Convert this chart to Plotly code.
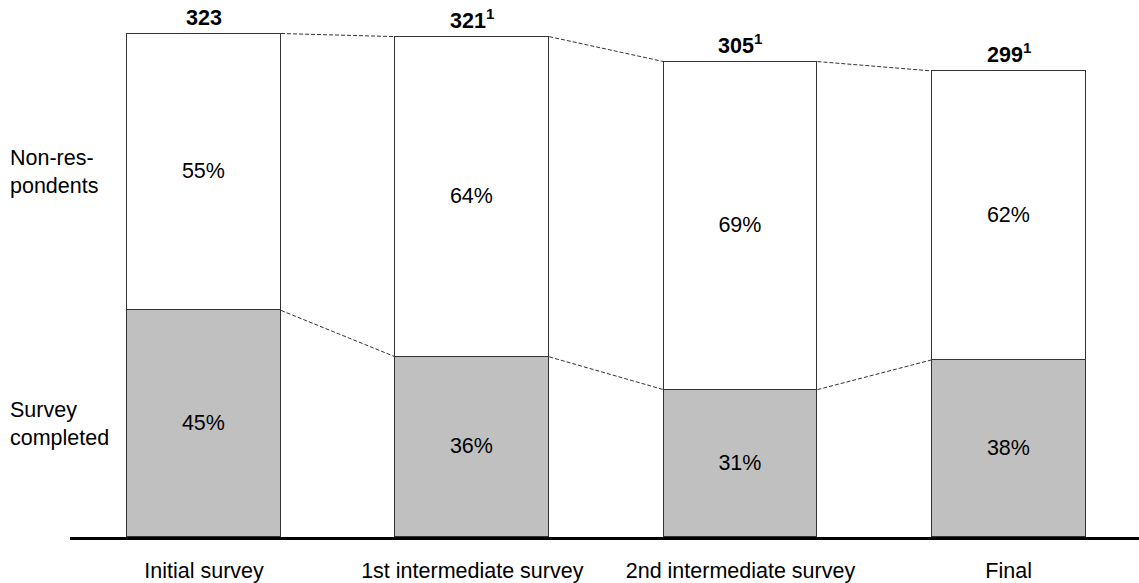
import plotly.graph_objects as go

categories = ["Initial survey", "1st intermediate survey", "2nd intermediate survey", "Final"]
totals = [323, 321, 305, 299]
total_labels = ["<b>323</b>", "<b>321<sup>1</sup></b>", "<b>305<sup>1</sup></b>", "<b>299<sup>1</sup></b>"]
completed_pct = [45, 36, 31, 38]
nonresp_pct = [55, 64, 69, 62]
series_names = ["Survey<br>completed", "Non-res-<br>pondents"]

FONT = "Liberation Sans, Arial, sans-serif"
FS = 21.5
BAR_W = 0.574

xs = list(range(len(categories)))
completed = [t * p / 100 for t, p in zip(totals, completed_pct)]
nonresp = [t - c for t, c in zip(totals, completed)]

fig = go.Figure()
fig.add_trace(go.Bar(
    x=xs, y=completed, width=BAR_W,
    marker=dict(color="#C0C0C0", line=dict(color="#333333", width=1.2)),
    text=[f"{p}%" for p in completed_pct], textposition="inside",
    insidetextanchor="middle", textangle=0,
    textfont=dict(size=FS, color="#000000", family=FONT),
    showlegend=False, hoverinfo="skip",
))
fig.add_trace(go.Bar(
    x=xs, y=nonresp, width=BAR_W,
    marker=dict(color="#FFFFFF", line=dict(color="#333333", width=1.2)),
    text=[f"{p}%" for p in nonresp_pct], textposition="inside",
    insidetextanchor="middle", textangle=0,
    textfont=dict(size=FS, color="#000000", family=FONT),
    showlegend=False, hoverinfo="skip",
))

# dashed connectors between neighbouring bars
for series in (totals, completed):
    lx, ly = [], []
    for i in range(len(xs) - 1):
        lx += [xs[i] + BAR_W / 2, xs[i + 1] - BAR_W / 2, None]
        ly += [series[i], series[i + 1], None]
    fig.add_trace(go.Scatter(
        x=lx, y=ly, mode="lines",
        line=dict(color="#333333", width=1, dash="4px,2px"),
        showlegend=False, hoverinfo="skip",
    ))

annotations = []
for x, t, lab in zip(xs, totals, total_labels):
    annotations.append(dict(
        x=x, y=t, xref="x", yref="y", text=lab, showarrow=False,
        yanchor="bottom", yshift=2,
        font=dict(size=FS, color="#000000", family=FONT),
    ))

# series labels at left, aligned with the middle of the first bar's segments
mids = [completed[0] / 2, completed[0] + nonresp[0] / 2]
for name, m in zip(series_names, mids):
    annotations.append(dict(
        x=0, y=m, xref="paper", yref="y", text=name, showarrow=False,
        xanchor="left", yanchor="middle", align="left", xshift=-62,
        font=dict(size=FS, color="#000000", family=FONT),
    ))

fig.update_layout(
    barmode="stack",
    width=1139, height=583,
    margin=dict(l=70, r=0, t=0, b=44),
    paper_bgcolor="white", plot_bgcolor="white",
    font=dict(family=FONT, size=FS, color="#000000"),
    annotations=annotations,
    bargap=0,
)
fig.update_xaxes(
    range=[-0.5, 3.486], tickvals=xs, ticktext=categories,
    showline=True, linecolor="#000000", linewidth=3,
    ticks="outside", ticklen=12, tickcolor="rgba(0,0,0,0)",
    showgrid=False, zeroline=False,
    tickfont=dict(size=FS, color="#000000", family=FONT),
)
fig.update_yaxes(
    range=[0, 344.5], visible=False, showgrid=False, zeroline=False,
)

fig.write_html("out.html")
